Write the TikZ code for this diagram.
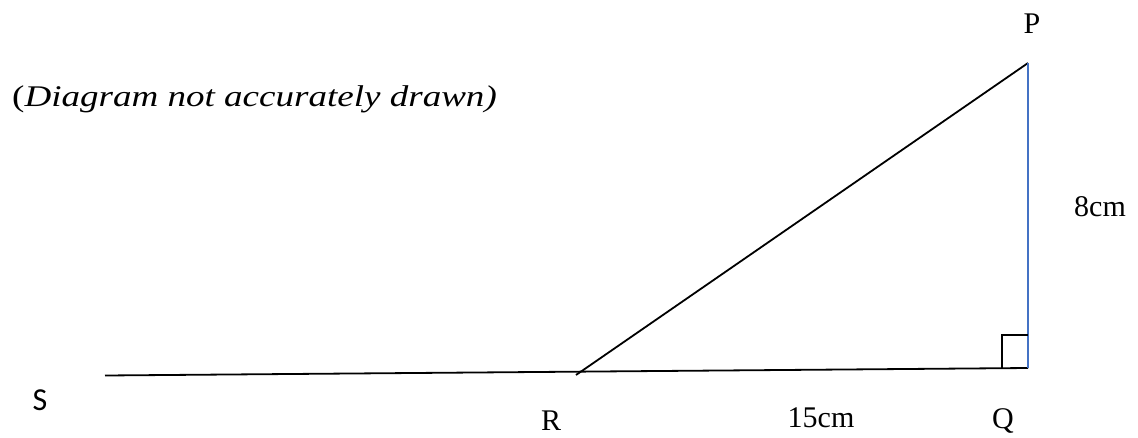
\documentclass[tikz,border=0pt]{standalone}
\usepackage{fontspec}
\setmainfont{Liberation Serif}
\newfontfamily\calib{Carlito}
\definecolor{offblue}{RGB}{68,114,196}
\begin{document}
\begin{tikzpicture}[x=1pt,y=-1pt,
  lbl/.style={inner sep=0pt,font=\fontsize{30}{35}\selectfont},
  seg/.style={line width=1.8pt,black}]
\useasboundingbox (0,0) rectangle (1138,437);
\coordinate (S) at (105,375.5);
\coordinate (Rb) at (576,375);
\coordinate (Q) at (1028,368);
\coordinate (P) at (1028,63);
% base line
\draw[seg] (S) -- (Q);
% hypotenuse
\draw[seg] (Rb) -- (P);
% vertical side
\draw[line width=1.8pt,offblue] (P) -- (Q);
% right angle mark
\coordinate (ra1) at (1002,368);
\coordinate (ra2) at (1002,335);
\coordinate (ra3) at (1028,335);
\draw[seg] (ra1) -- (ra2) -- (ra3);
% labels
\node[lbl] (lP) at (1032,24) {P};
\node[lbl] (lQ) at (1003,421) {Q};
\node[lbl] (lR) at (551,421) {R};
\node[lbl,font=\calib\fontsize{32}{36}\selectfont] (lS) at (40,400) {S};
\node[lbl] (l15) at (821,418) {15cm};
\node[lbl] (l8) at (1100,207) {8cm};
\node[inner sep=0pt,anchor=west,font=\fontsize{30}{35}\selectfont] (title) at (12,99) {\scalebox{1.235}[1]{(\textit{Diagram not accurately drawn)}}};
\end{tikzpicture}
\end{document}
